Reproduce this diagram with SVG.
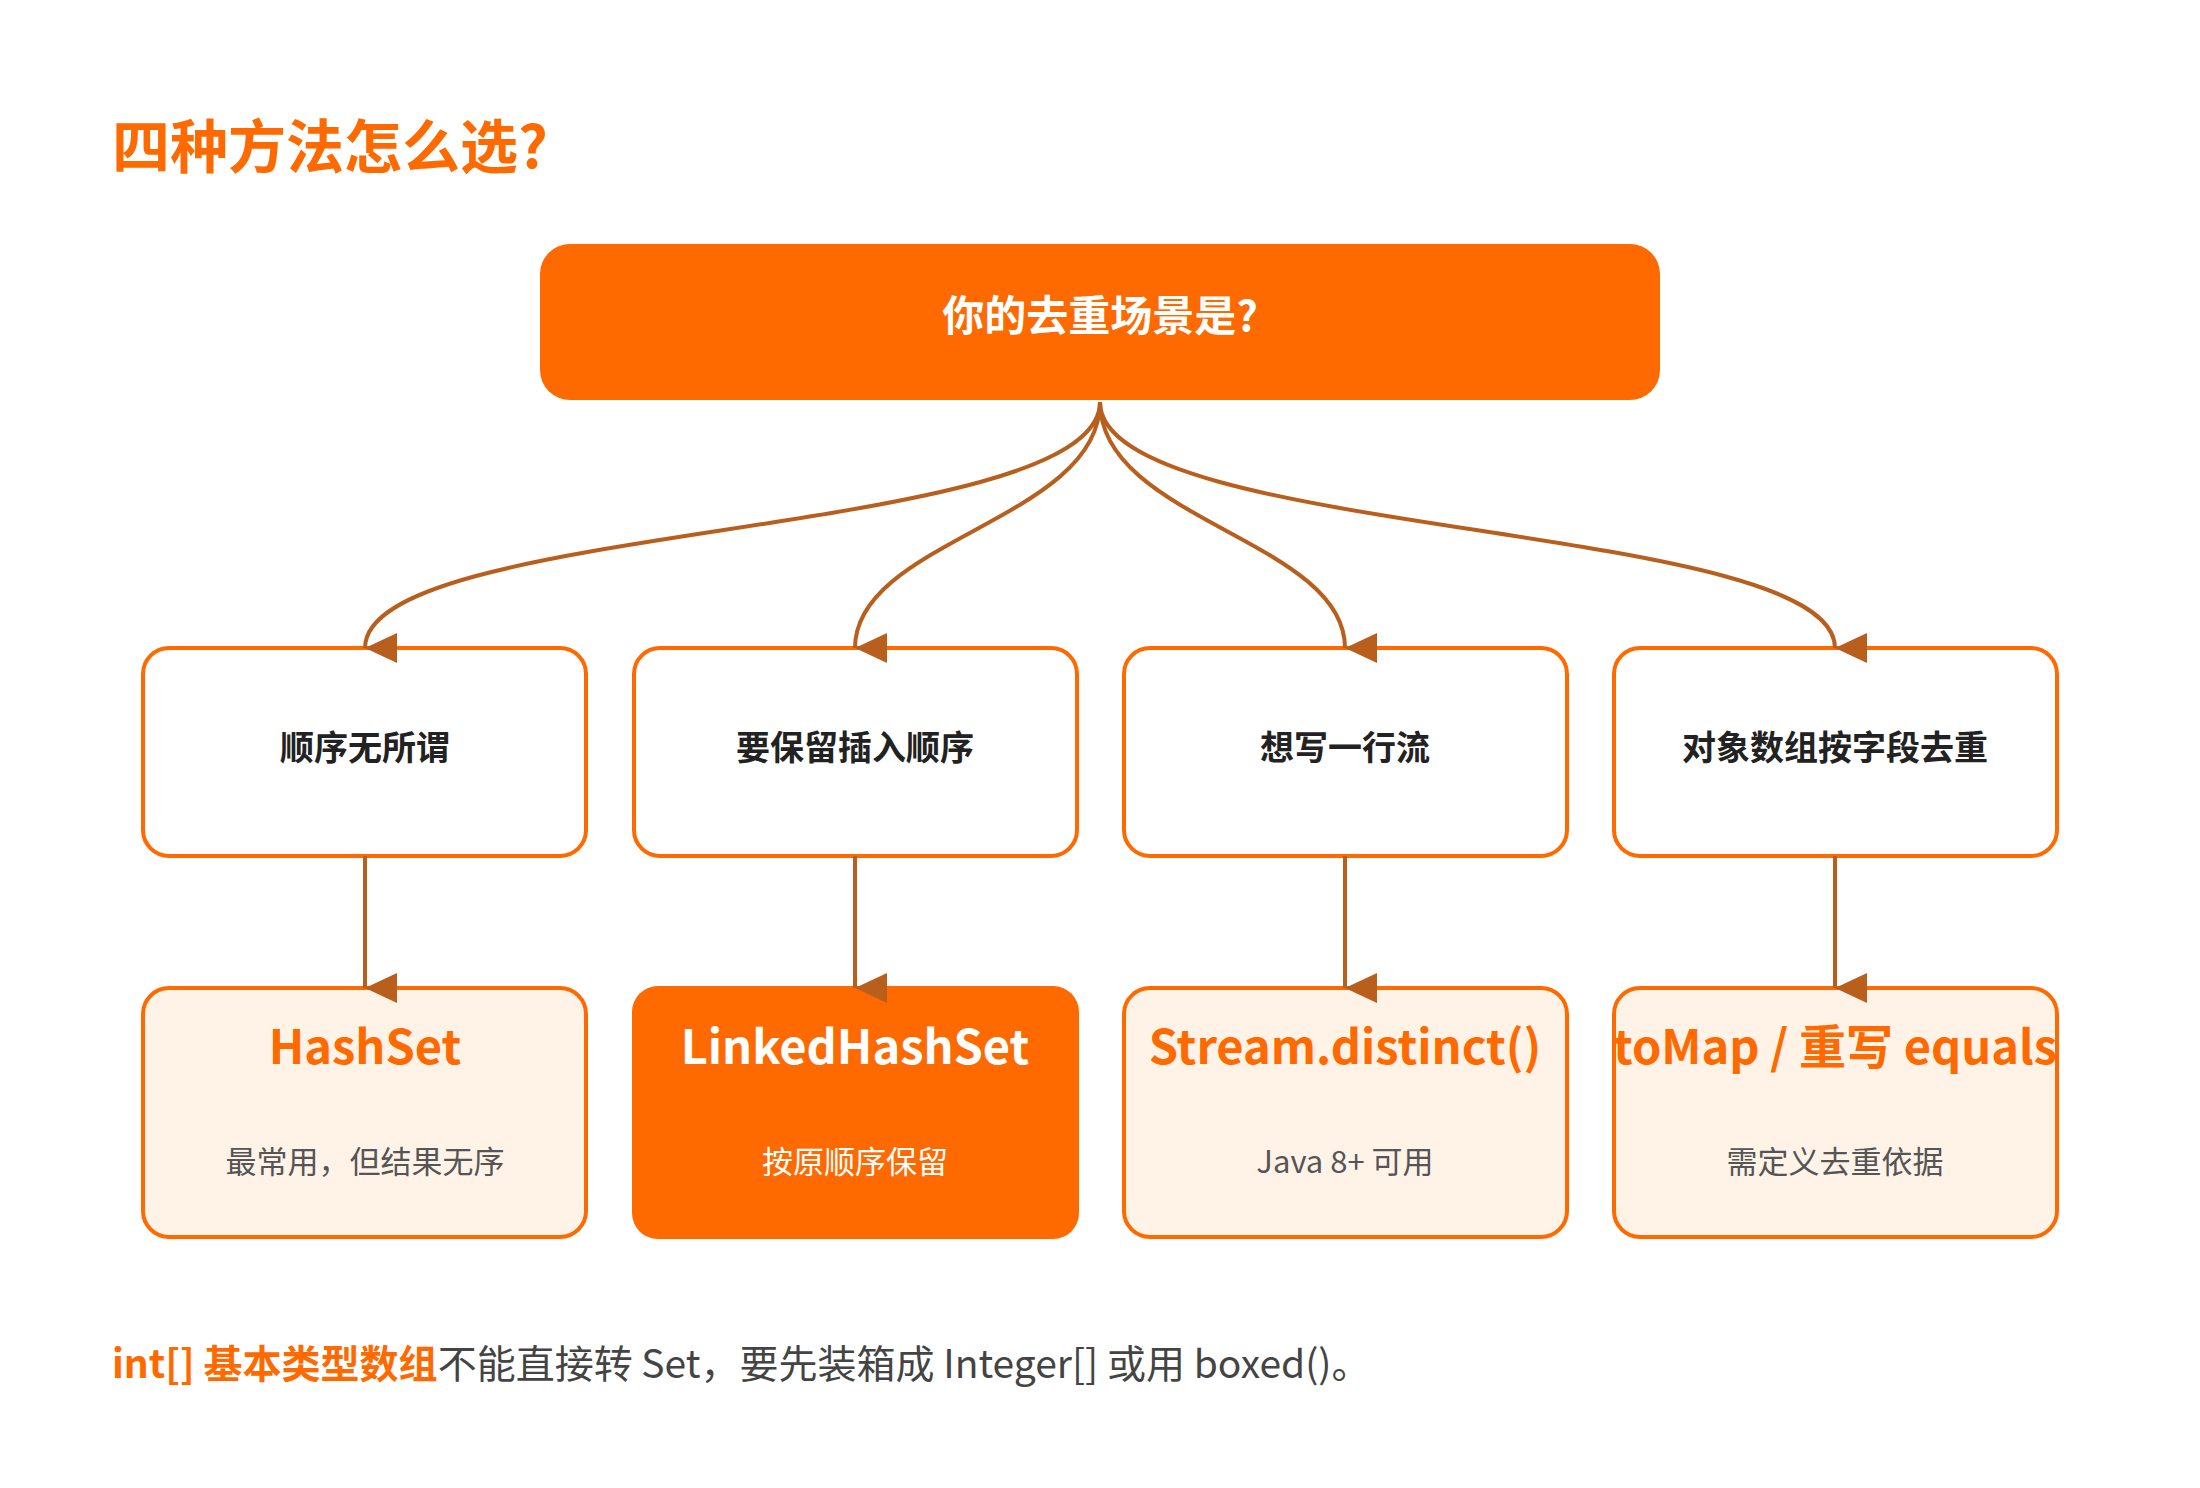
<svg xmlns="http://www.w3.org/2000/svg" width="2200" height="1488" viewBox="0 0 2200 1488">
<defs>
<marker id="ah" markerWidth="30" markerHeight="32" refX="15" refY="32" orient="auto-start-reverse" markerUnits="userSpaceOnUse" viewBox="0 0 30 32">
<path d="M0,0 L30,0 L15,32 Z" fill="#B85F1E"/>
</marker>
<style>
text{font-family:"Noto Sans CJK SC","Noto Sans",sans-serif;text-anchor:middle}
.q{fill:#fff;stroke:#FF6A00;stroke-width:4}
.a{fill:#FFF3E8;stroke:#FF6A00;stroke-width:4}
.qt{font-size:34px;font-weight:700;fill:#222}
.at{font-size:47px;font-weight:700;fill:#FF6A00}
.st{font-size:31px;fill:#555}
.c{fill:none;stroke:#B85F1E;stroke-width:4}
</style>
</defs>
<rect width="2200" height="1488" fill="#fff"/>
<text x="112" y="168" style="text-anchor:start;font-size:58px;font-weight:700;fill:#FF6A00">四种方法怎么选?</text>
<g id="root"><rect x="540" y="244" width="1120" height="156" rx="30" fill="#FF6A00"/><text x="1100" y="331" style="font-size:42px;font-weight:700;fill:#fff">你的去重场景是?</text></g>
<g id="q1"><rect class="q" x="143" y="648" width="443" height="208" rx="26"/><text class="qt" x="365" y="760">顺序无所谓</text></g>
<g id="q2"><rect class="q" x="634" y="648" width="443" height="208" rx="26"/><text class="qt" x="855" y="760">要保留插入顺序</text></g>
<g id="q3"><rect class="q" x="1124" y="648" width="443" height="208" rx="26"/><text class="qt" x="1345" y="760">想写一行流</text></g>
<g id="q4"><rect class="q" x="1614" y="648" width="443" height="208" rx="26"/><text class="qt" x="1835" y="760">对象数组按字段去重</text></g>
<g id="a1"><rect class="a" x="143" y="988" width="443" height="249" rx="26"/><text class="at" x="365" y="1064">HashSet</text><text class="st" x="365" y="1173">最常用，但结果无序</text></g>
<g id="a2"><rect x="632" y="986" width="447" height="253" rx="26" fill="#FF6A00"/><text class="at" x="855" y="1064" style="fill:#fff">LinkedHashSet</text><text class="st" x="855" y="1173" style="fill:#fff">按原顺序保留</text></g>
<g id="a3"><rect class="a" x="1124" y="988" width="443" height="249" rx="26"/><text class="at" x="1345" y="1064">Stream.distinct()</text><text class="st" x="1345" y="1173">Java 8+ 可用</text></g>
<g id="a4"><rect class="a" x="1614" y="988" width="443" height="249" rx="26"/><text class="at" x="1835" y="1064">toMap / 重写 equals</text><text class="st" x="1835" y="1173">需定义去重依据</text></g>
<g id="connectors">
<path class="c" marker-end="url(#ah)" d="M1100,402 C1100,540 365,520 365,648"/>
<path class="c" marker-end="url(#ah)" d="M1100,402 C1100,520 855,540 855,648"/>
<path class="c" marker-end="url(#ah)" d="M1100,402 C1100,520 1345,540 1345,648"/>
<path class="c" marker-end="url(#ah)" d="M1100,402 C1100,540 1835,520 1835,648"/>
<path class="c" marker-end="url(#ah)" d="M365,856 L365,988"/>
<path class="c" marker-end="url(#ah)" d="M855,856 L855,988"/>
<path class="c" marker-end="url(#ah)" d="M1345,856 L1345,988"/>
<path class="c" marker-end="url(#ah)" d="M1835,856 L1835,988"/>
</g>
<text x="112" y="1378" style="text-anchor:start;font-size:39px;fill:#444"><tspan style="font-weight:700;fill:#FF6A00">int[] 基本类型数组</tspan>不能直接转 Set，要先装箱成 Integer[] 或用 boxed()。</text>
</svg>
